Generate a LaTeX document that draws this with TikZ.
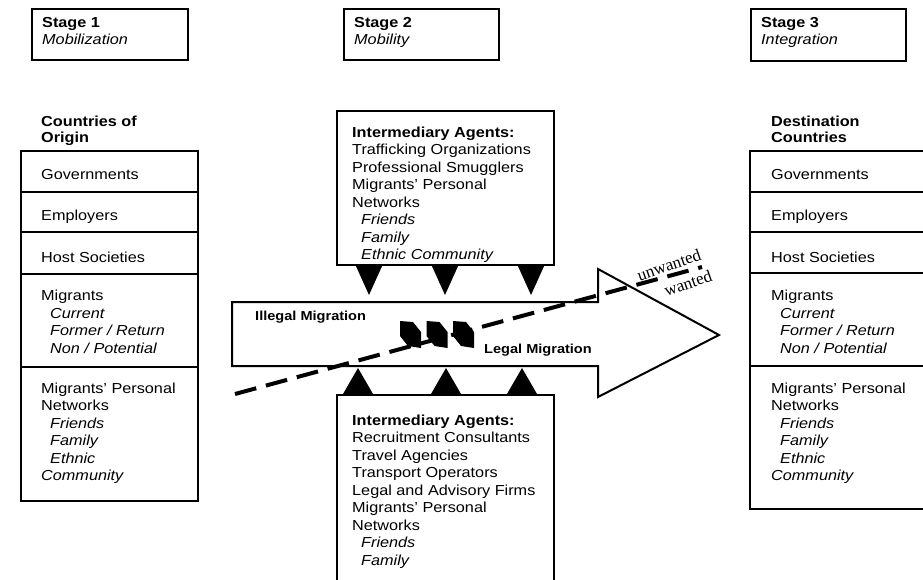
\documentclass[tikz,border=0pt]{standalone}
\usepackage{fontspec}
\setmainfont{Liberation Sans}[FakeStretch=1.12]
\newfontfamily\wserif{Liberation Serif}
\newcommand\myind{\hspace*{9pt}}
\begin{document}
\begin{tikzpicture}[x=1pt,y=-1pt,
  txt/.style={inner sep=0pt, anchor=base west, align=left, font=\fontsize{14.5}{17.5}\selectfont},
  head/.style={txt, font=\fontsize{14.5}{16}\selectfont\bfseries},
  lbl/.style={inner sep=0pt, anchor=base west, font=\fontsize{13}{15}\selectfont\bfseries},
  stagebox/.style={draw, line width=2.2pt, anchor=north west, inner sep=0pt},
  agentbox/.style={draw, line width=2pt, fill=white, anchor=north west, inner sep=0pt},
  frame/.style={line width=2pt},
  cell/.style={line width=1.5pt},
  tri/.style={fill=black},
  wanted/.style={inner sep=0pt, font=\wserif\fontsize{17}{19}\selectfont, rotate=19}]
\useasboundingbox (0,0) rectangle (923,580);
\fill[white] (0,0) rectangle (923,580);

% stage boxes (text nodes anchored at last baseline)
\node[stagebox, minimum width=156pt, minimum height=51pt] (st1) at (31,8) {};
\node[stagebox, minimum width=155pt, minimum height=51pt] (st2) at (343,8) {};
\node[stagebox, minimum width=155pt, minimum height=52pt] (st3) at (750,8) {};
\node[txt] (st1t) at (42,45) {\textbf{Stage 1}\\\textit{Mobilization}};
\node[txt] (st2t) at (354,45) {\textbf{Stage 2}\\\textit{Mobility}};
\node[txt] (st3t) at (761,45) {\textbf{Stage 3}\\\textit{Integration}};

% column headers
\node[head] (orig) at (41,143) {Countries of\\Origin};
\node[head] (dest) at (771,143) {Destination\\Countries};

% left column
\draw[frame] (21,151) rectangle (198,501);
\draw[cell] (21,192) -- (198,192) (21,232) -- (198,232) (21,274) -- (198,274) (21,367) -- (198,367);
\node[txt] (lg) at (41,179) {Governments};
\node[txt] (le) at (41,220) {Employers};
\node[txt] (lh) at (41,262) {Host Societies};
\node[txt] (lm) at (41,353) {Migrants\\\myind\textit{Current}\\\myind\textit{Former / Return}\\\myind\textit{Non / Potential}};
\node[txt] (ln) at (41,480.5) {Migrants' Personal\\Networks\\\myind\textit{Friends}\\\myind\textit{Family}\\\myind\textit{Ethnic}\\\textit{Community}};

% right column
\draw[frame] (750,151) rectangle (940,509);
\draw[cell] (750,192) -- (940,192) (750,232) -- (940,232) (750,273) -- (940,273) (750,366) -- (940,366);
\node[txt] (rg) at (771,179) {Governments};
\node[txt] (re) at (771,220) {Employers};
\node[txt] (rh) at (771,262) {Host Societies};
\node[txt] (rm) at (771,353) {Migrants\\\myind\textit{Current}\\\myind\textit{Former / Return}\\\myind\textit{Non / Potential}};
\node[txt] (rn) at (771,480.5) {Migrants' Personal\\Networks\\\myind\textit{Friends}\\\myind\textit{Family}\\\myind\textit{Ethnic}\\\textit{Community}};

% big arrow
\draw[line width=2pt, fill=white] (232,302) -- (598,302) -- (598,269) -- (719,335) -- (598,397) -- (598,366) -- (232,366) -- cycle;
\node[lbl] (illegal) at (255,320) {Illegal Migration};
\node[lbl] (legal) at (484,353) {Legal Migration};

% intermediary boxes
\node[agentbox, minimum width=217pt, minimum height=154pt] (topag) at (336,110) {};
\node[txt] (topagt) at (352,259.5) {\textbf{Intermediary Agents:}\\Trafficking Organizations\\Professional Smugglers\\Migrants' Personal\\Networks\\\myind\textit{Friends}\\\myind\textit{Family}\\\myind\textit{Ethnic Community}};
\node[agentbox, minimum width=217pt, minimum height=200pt] (botag) at (336,394) {};
\node[txt] (botagt) at (352,565) {\textbf{Intermediary Agents:}\\Recruitment Consultants\\Travel Agencies\\Transport Operators\\Legal and Advisory Firms\\Migrants' Personal\\Networks\\\myind\textit{Friends}\\\myind\textit{Family}};

% triangles
\foreach \cx in {369,445,531} \fill[tri] (\cx-14,264) -- (\cx+14,264) -- (\cx,295) -- cycle;
\foreach \cx in {358,446,522} \fill[tri] (\cx-15,394) -- (\cx+15,394) -- (\cx,368) -- cycle;

% dashed line
\draw[line width=4pt, dash pattern=on 22pt off 10pt] (235,394) -- (702,267);

% zigzag blocks
\foreach \dx in {0,26.5,53} \fill[black] (400+\dx,321) -- (413+\dx,322) -- (421+\dx,332) -- (421+\dx,348) -- (408+\dx,346) -- (400+\dx,336) -- cycle;

\node[wanted] (unw) at (669,265) {unwanted};
\node[wanted] (wan) at (688,283) {wanted};
\end{tikzpicture}
\end{document}
